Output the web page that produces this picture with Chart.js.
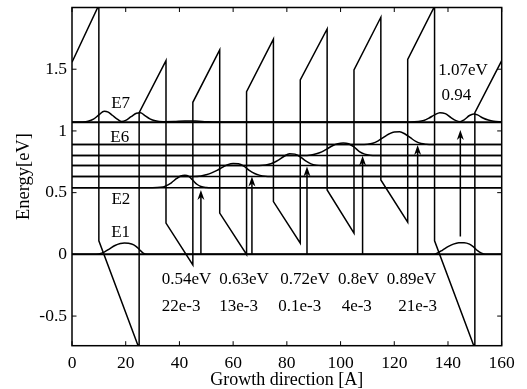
<!DOCTYPE html>
<html><head><meta charset="utf-8">
<script src="https://cdn.jsdelivr.net/npm/chart.js@4"></script>
<style>html,body{margin:0;padding:0;background:#fff}#wrap{width:527px;height:389px}</style>
</head><body><div id="wrap"><canvas id="c" width="527" height="389"></canvas></div>
<script>
// ---- data ----
const xTicks = [0, 20, 40, 60, 80, 100, 120, 140, 160];
const yTicks = [-0.5, 0, 0.5, 1, 1.5];
const yTickLabels = ['-0.5', '0', '0.5', '1', '1.5'];

const profileX = [0, 10, 10, 25, 25, 35, 35, 45, 45, 55, 55, 65, 65, 75, 75, 85, 85, 95, 95, 105, 105, 115, 115, 125, 125, 135, 135, 150, 150, 160];
const profileY = [1.556, 2.02, 0.11, -0.763, 1.148, 1.57, 0.253, -0.085, 1.232, 1.656, 0.334, 0.0, 1.318, 1.743, 0.428, 0.091, 1.413, 1.826, 0.522, 0.172, 1.494, 1.921, 0.603, 0.26, 1.58, 2.01, 0.11, -0.763, 1.148, 1.57];

const levels = [0, 0.54, 0.63, 0.72, 0.80, 0.89, 1.07];

const psiE1 = [[0,0],[8,0],[10,0.004],[12,0.018],[14,0.045],[16,0.072],[18,0.088],[19.5,0.093],[21,0.09],[23,0.077],[24.5,0.053],[25.5,0.03],[26.5,0.01],[28,0.001],[30,0],
  [134,0],[136,0.01],[138,0.035],[140,0.062],[142,0.083],[144,0.094],[146,0.095],[148,0.083],[149.5,0.06],[151,0.03],[152.5,0.01],[154,0.001],[156,0],[160,0]];
const psiE2 = [[0,0.54],[30,0.54],[33,0.543],[35,0.555],[37,0.58],[39,0.615],[40.5,0.635],[42,0.641],[43.5,0.632],[45,0.6],[46.5,0.568],[48,0.55],[50,0.542],[52,0.54],[160,0.54]];
const psiE3 = [[0,0.63],[45,0.63],[48,0.634],[50,0.645],[52,0.66],[54,0.68],[56,0.705],[58,0.727],[60,0.737],[62,0.735],[64,0.715],[66,0.68],[68,0.655],[70,0.64],[72,0.632],[74,0.63],[160,0.63]];
const psiE4 = [[0,0.72],[68,0.72],[71,0.722],[73,0.728],[75,0.742],[77,0.765],[79,0.795],[81,0.815],[83,0.812],[85,0.79],[87,0.757],[89,0.733],[91,0.723],[93,0.72],[160,0.72]];
const psiE5 = [[0,0.80],[86,0.80],[89,0.805],[91,0.815],[93,0.83],[95,0.855],[97,0.88],[99,0.897],[101,0.903],[103,0.896],[105,0.87],[107,0.833],[109,0.812],[111,0.803],[113,0.80],[160,0.80]];
const psiE6 = [[0,0.89],[107,0.89],[110,0.892],[112,0.9],[114,0.92],[116,0.948],[118,0.975],[120,0.992],[122,0.993],[124,0.975],[126,0.945],[128,0.915],[130,0.898],[132,0.892],[134,0.89],[160,0.89]];
const psiE7 = [[0,1.072],[4,1.073],[6,1.078],[8,1.095],[10,1.13],[12,1.16],[13.5,1.152],[15,1.127],[17,1.094],[18.5,1.076],[20,1.085],[22,1.115],[24,1.143],[25.5,1.148],[27,1.127],[29,1.098],[31,1.082],[34,1.075],[38,1.076],[42,1.08],[46,1.08],[50,1.075],[54,1.072],
  [126,1.072],[129,1.076],[131,1.085],[133,1.105],[135,1.13],[137,1.148],[139,1.14],[141,1.11],[143,1.083],[144.5,1.075],[146,1.09],[148,1.125],[149.5,1.138],[151,1.13],[153,1.105],[155,1.088],[157,1.078],[160,1.074]];

const arrowX = [48, 67, 87.5, 108.2, 128.7, 144.6];
const arrowFrom = [0, 0, 0, 0, 0, 0.144];
const arrowTo = [0.522, 0.63, 0.711, 0.798, 0.887, 1.008];

const levelNames = ['E7', 'E6', 'E2', 'E1'];
const levelNameX = [18.1, 17.8, 18.2, 18.1];
const levelNameY = [1.225, 0.945, 0.445, 0.178];

const transEnergy = ['0.54eV', '0.63eV', '0.72eV', '0.8eV', '0.89eV', '1.07eV'];
const transEnergyX = [33.4, 54.8, 77.5, 99.0, 117.2, 136.4];
const transEnergyY = [-0.202, -0.202, -0.202, -0.202, -0.202, 1.487];
const oscStrength = ['22e-3', '13e-3', '0.1e-3', '4e-3', '21e-3', '0.94'];
const oscStrengthX = [33.4, 54.8, 76.8, 100.4, 121.5, 137.6];
const oscStrengthY = [-0.421, -0.421, -0.421, -0.421, -0.421, 1.29];

// ---- build ----
const FONT = '"Liberation Serif", "Times New Roman", serif';
const toXY = arr => arr.map(p => ({x: p[0], y: p[1]}));
const base = {borderColor: '#000', pointRadius: 0, fill: false, clip: 0, showLine: true};
const datasets = [];
levels.forEach((L, i) => datasets.push(Object.assign({}, base, {
  data: [{x: 0, y: L}, {x: 160, y: L}], borderWidth: (i === 0 || i === 6) ? 2 : 1.5
})));
datasets.push(Object.assign({}, base, {data: profileX.map((v, i) => ({x: v, y: profileY[i]})), borderWidth: 1.5, tension: 0}));
[psiE1, psiE2, psiE3, psiE4, psiE5, psiE6, psiE7].forEach(p => datasets.push(Object.assign({}, base, {
  data: toXY(p), borderWidth: 1.5, cubicInterpolationMode: 'monotone'
})));
arrowX.forEach((ax, i) => datasets.push(Object.assign({}, base, {
  data: [{x: ax, y: arrowFrom[i]}, {x: ax, y: arrowTo[i] - 0.04}], borderWidth: 1.5
})));

const deco = {
  id: 'deco',
  afterDatasetsDraw(chart) {
    const {ctx, chartArea: a, scales: {x, y}} = chart;
    ctx.save();
    // arrowheads
    ctx.fillStyle = '#000';
    arrowX.forEach((ax, i) => {
      const px = x.getPixelForValue(ax), py = y.getPixelForValue(arrowTo[i]);
      ctx.beginPath();
      ctx.moveTo(px, py);
      ctx.lineTo(px - 3.5, py + 10);
      ctx.lineTo(px, py + 7);
      ctx.lineTo(px + 3.5, py + 10);
      ctx.closePath();
      ctx.fill();
    });
    // texts
    ctx.font = '17px ' + FONT;
    ctx.textBaseline = 'middle';
    ctx.textAlign = 'center';
    levelNames.forEach((t, i) => ctx.fillText(t, x.getPixelForValue(levelNameX[i]), y.getPixelForValue(levelNameY[i])));
    ctx.textAlign = 'left';
    transEnergy.forEach((t, i) => ctx.fillText(t, x.getPixelForValue(transEnergyX[i]), y.getPixelForValue(transEnergyY[i])));
    oscStrength.forEach((t, i) => ctx.fillText(t, x.getPixelForValue(oscStrengthX[i]), y.getPixelForValue(oscStrengthY[i])));
    // frame
    ctx.strokeStyle = '#000';
    ctx.lineWidth = 1.5;
    ctx.strokeRect(a.left, a.top, a.right - a.left, a.bottom - a.top);
    // inward ticks
    ctx.lineWidth = 1;
    const seg = (x1, y1, x2, y2) => { ctx.beginPath(); ctx.moveTo(x1, y1); ctx.lineTo(x2, y2); ctx.stroke(); };
    xTicks.forEach(v => { const px = x.getPixelForValue(v); seg(px, a.bottom, px, a.bottom - 4.5); seg(px, a.top, px, a.top + 4.5); });
    yTicks.forEach(v => { const py = y.getPixelForValue(v); seg(a.left, py, a.left + 4.5, py); seg(a.right, py, a.right - 4.5, py); });
    ctx.restore();
  }
};

new Chart(document.getElementById('c'), {
  type: 'scatter',
  data: {datasets},
  options: {
    responsive: false,
    animation: false,
    devicePixelRatio: 1,
    layout: {padding: {left: 0, right: 25.3, top: 7.5, bottom: 0}},
    plugins: {legend: {display: false}, tooltip: {enabled: false}},
    scales: {
      x: {
        type: 'linear', min: 0, max: 160,
        afterBuildTicks: s => { s.ticks = xTicks.map(v => ({value: v})); },
        afterFit: s => { s.height = 43.3; s.paddingLeft = 0; s.paddingRight = 0; },
        grid: {display: false, drawTicks: false},
        border: {display: false},
        ticks: {color: '#000', font: {family: FONT, size: 17.5}, padding: 7, maxRotation: 0, callback: v => String(v)},
        title: {display: true, text: 'Growth direction [A]', color: '#000', font: {family: FONT, size: 18, lineHeight: 1}, padding: {top: 0, bottom: 0}}
      },
      y: {
        type: 'linear', min: -0.74, max: 2.0,
        afterBuildTicks: s => { s.ticks = yTicks.map(v => ({value: v})); },
        afterFit: s => { s.width = 72; s.paddingTop = 0; s.paddingBottom = 0; },
        grid: {display: false, drawTicks: false},
        border: {display: false},
        ticks: {color: '#000', font: {family: FONT, size: 17.5}, padding: 5, callback: (v) => yTickLabels[yTicks.indexOf(v)] ?? ''},
        title: {display: true, text: 'Energy[eV]', color: '#000', font: {family: FONT, size: 18.5, lineHeight: 1}, padding: {top: 15, bottom: 0}}
      }
    }
  },
  plugins: [deco]
});
</script></body></html>
